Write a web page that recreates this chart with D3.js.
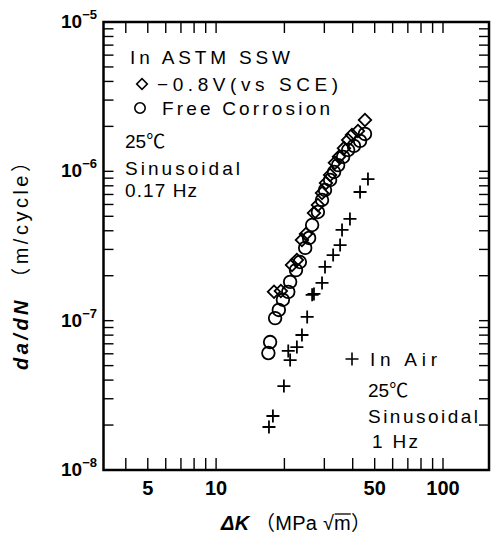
<!DOCTYPE html>
<html>
<head>
<meta charset="utf-8">
<script src="https://cdn.jsdelivr.net/npm/d3@7"></script>
<style>
  body { margin: 0; background: #fff; }
  svg { display: block; }
  text { font-family: "Liberation Sans", Arial, "Noto Sans CJK JP", sans-serif; fill: #000; }
</style>
</head>
<body>
<div id="chart"></div>
<script>
// da/dN vs dK

// -0.8 V (vs SCE), ASTM sea water
var kCathodic = [18.0, 19.3, 21.6, 22.7, 23.9, 24.9, 27.0, 28.1, 29.3, 30.5, 31.8, 33.4, 34.8, 36.6, 38.2, 39.7, 42.2, 45.3];
var rateCathodic = [1.56e-7, 1.58e-7, 2.36e-7, 2.55e-7, 3.47e-7, 3.80e-7, 5.26e-7, 5.95e-7, 7.16e-7, 8.35e-7, 9.45e-7, 1.14e-6, 1.25e-6, 1.43e-6, 1.62e-6, 1.75e-6, 1.86e-6, 2.21e-6];

// free corrosion, ASTM sea water
var kFree = [17.0, 17.3, 18.2, 18.9, 19.7, 20.8, 21.2, 22.5, 23.4, 24.7, 25.7, 26.5, 28.1, 29.3, 30.2, 31.8, 33.1, 34.5, 36.3, 38.2, 40.5, 43.1, 45.3];
var rateFree = [6.07e-8, 7.19e-8, 1.04e-7, 1.18e-7, 1.38e-7, 1.56e-7, 1.82e-7, 2.18e-7, 2.47e-7, 3.07e-7, 3.58e-7, 4.37e-7, 5.34e-7, 6.43e-7, 7.50e-7, 8.75e-7, 9.90e-7, 1.10e-6, 1.25e-6, 1.39e-6, 1.48e-6, 1.60e-6, 1.78e-6];

// in air
var kAir = [17.1, 17.8, 19.9, 20.8, 21.2, 22.7, 23.9, 25.2, 26.5, 27.0, 29.3, 30.2, 32.8, 35.2, 35.9, 38.9, 43.1, 46.7];
var rateAir = [1.94e-8, 2.30e-8, 3.65e-8, 6.27e-8, 5.45e-8, 6.66e-8, 8.02e-8, 1.06e-7, 1.49e-7, 1.51e-7, 1.79e-7, 2.29e-7, 2.75e-7, 3.21e-7, 4.05e-7, 4.80e-7, 7.27e-7, 8.88e-7];

var xTickLabels = [5, 10, 50, 100];
var yDecades = [-5, -6, -7, -8];

var width = 491, height = 537;
var plotL = 103.5, plotR = 489, plotT = 22, plotB = 470;

var svg = d3.select("#chart").append("svg")
  .attr("width", width)
  .attr("height", height);

var x = d3.scaleLog().domain([3.19, 159.5]).range([plotL, plotR]);
var y = d3.scaleLog().domain([1e-8, 1e-5]).range([plotB, plotT]);

// minor + major ticks, drawn inward on all four sides
var xTicks = x.ticks().filter(d => d >= x.domain()[0] && d <= x.domain()[1]);
var yTicks = y.ticks();

var tickG = svg.append("g").attr("stroke", "#000").attr("stroke-width", 1.4);
tickG.selectAll(".xb").data(xTicks).enter().append("line")
  .attr("x1", d => x(d)).attr("x2", d => x(d))
  .attr("y1", plotB).attr("y2", plotB - 12);
tickG.selectAll(".xt").data(xTicks).enter().append("line")
  .attr("x1", d => x(d)).attr("x2", d => x(d))
  .attr("y1", plotT).attr("y2", plotT + 11);
tickG.selectAll(".yl").data(yTicks).enter().append("line")
  .attr("x1", plotL).attr("x2", plotL + 10)
  .attr("y1", d => y(d)).attr("y2", d => y(d));
tickG.selectAll(".yr").data(yTicks).enter().append("line")
  .attr("x1", plotR).attr("x2", plotR - 10)
  .attr("y1", d => y(d)).attr("y2", d => y(d));

svg.append("rect")
  .attr("x", plotL).attr("y", plotT)
  .attr("width", plotR - plotL).attr("height", plotB - plotT)
  .attr("fill", "none").attr("stroke", "#000").attr("stroke-width", 2.5);

// tick labels
svg.selectAll(".xlab").data(xTickLabels).enter().append("text")
  .attr("x", d => x(d)).attr("y", 495)
  .attr("text-anchor", "middle")
  .attr("font-size", 20).attr("font-weight", "bold")
  .text(d => d);

var ylab = svg.selectAll(".ylab").data(yDecades).enter().append("text")
  .attr("x", 97).attr("y", d => y(Math.pow(10, d)) + 6)
  .attr("text-anchor", "end")
  .attr("font-size", 19).attr("font-weight", "bold");
ylab.append("tspan").text("10");
ylab.append("tspan").attr("dy", -9).attr("font-size", 13).text(d => "\u2212" + (-d));

// axis titles
var xt = svg.append("text")
  .attr("x", 221).attr("y", 530)
  .attr("font-size", 20)
  .attr("textLength", 150).attr("lengthAdjust", "spacing");
xt.append("tspan").attr("font-weight", "bold").attr("font-style", "italic").text("\u0394K");
xt.append("tspan").text(" \uFF08MPa ");
var rootSpan = xt.append("tspan").text("\u221Am");
xt.append("tspan").text("\uFF09");

var yt = svg.append("text")
  .attr("transform", "translate(28,370) rotate(-90)")
  .attr("font-size", 20)
  .attr("textLength", 218).attr("lengthAdjust", "spacing");
yt.append("tspan").attr("font-weight", "bold").attr("font-style", "italic").text("da/dN");
yt.append("tspan").text(" \uFF08m/cycle\uFF09");

// overline for the root sign
var rb = rootSpan.node().getBBox();
svg.append("line")
  .attr("x1", rb.x + rb.width * 0.42).attr("x2", rb.x + rb.width)
  .attr("y1", rb.y + 2).attr("y2", rb.y + 2)
  .attr("stroke", "#000").attr("stroke-width", 1.3);

// markers
var diamond = d3.symbol(d3.symbolSquare, 78)();
var diamondSmall = d3.symbol(d3.symbolSquare, 56)();
var cross = "M-6.5,0H6.5M0,-6.5V6.5";

var marks = svg.append("g").attr("fill", "none").attr("stroke", "#000").attr("stroke-width", 1.8);

marks.selectAll(".air").data(d3.zip(kAir, rateAir)).enter().append("path")
  .attr("d", cross)
  .attr("transform", d => `translate(${x(d[0])},${y(d[1])})`);

marks.selectAll(".free").data(d3.zip(kFree, rateFree)).enter().append("circle")
  .attr("r", 6.3)
  .attr("cx", d => x(d[0])).attr("cy", d => y(d[1]));

marks.selectAll(".cath").data(d3.zip(kCathodic, rateCathodic)).enter().append("path")
  .attr("d", diamond)
  .attr("transform", d => `translate(${x(d[0])},${y(d[1])}) rotate(45)`);

// annotations / legends
var notes = [
  {t: "In ASTM SSW", x: 130, y: 64, len: 160},
  {t: "\u22120.8V(vs SCE)", x: 157, y: 91, len: 181},
  {t: "Free Corrosion", x: 162, y: 115, len: 168},
  {t: "25\u2103", x: 125, y: 148},
  {t: "Sinusoidal", x: 125, y: 175, len: 115},
  {t: "0.17 Hz", x: 125, y: 197, len: 72},
  {t: "In Air", x: 370, y: 366, len: 67},
  {t: "25\u2103", x: 368, y: 397},
  {t: "Sinusoidal", x: 368, y: 423, len: 110},
  {t: "1 Hz", x: 372, y: 448, len: 46}
];
notes.forEach(n => {
  var t = svg.append("text").attr("x", n.x).attr("y", n.y).attr("font-size", 19).text(n.t);
  if (n.len) t.attr("textLength", n.len).attr("lengthAdjust", "spacing");
});

var lg = svg.append("g").attr("fill", "none").attr("stroke", "#000").attr("stroke-width", 1.6);
lg.append("path").attr("d", diamondSmall).attr("transform", "translate(142,84) rotate(45)");
lg.append("circle").attr("r", 5.2).attr("cx", 140).attr("cy", 108);
lg.append("path").attr("d", cross).attr("transform", "translate(352,359)");
</script>
</body>
</html>
